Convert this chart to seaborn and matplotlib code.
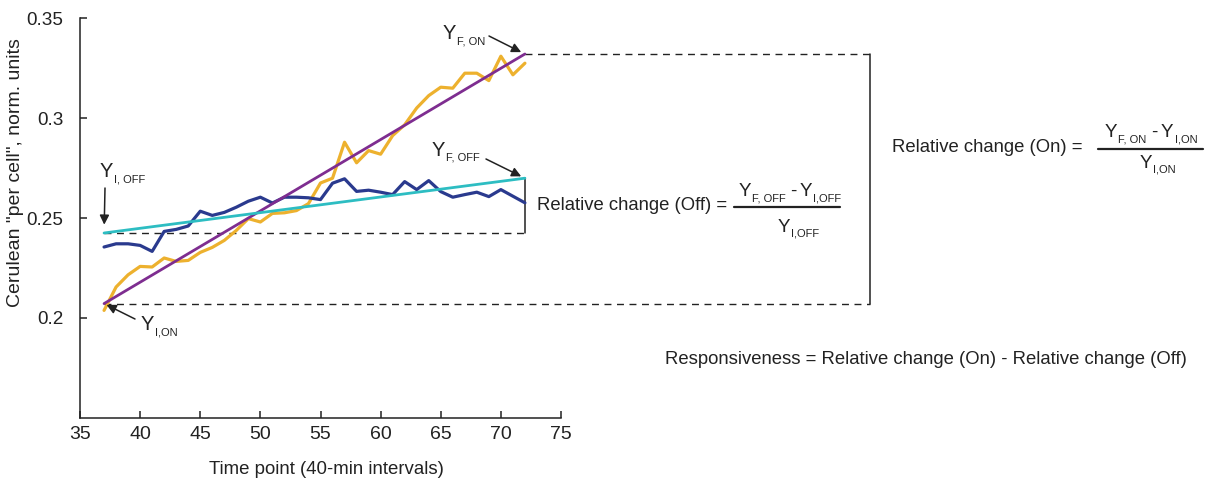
import numpy as np
import pandas as pd
import seaborn as sns
import matplotlib
matplotlib.use("Agg")
import matplotlib.pyplot as plt
from matplotlib.lines import Line2D

# Time points (40-min intervals)
time_points = [37, 38, 39, 40, 41, 42, 43, 44, 45, 46, 47, 48, 49, 50, 51, 52, 53, 54,
               55, 56, 57, 58, 59, 60, 61, 62, 63, 64, 65, 66, 67, 68, 69, 70, 71, 72]

# Cerulean "per cell" signal, inducer on
on_values = [0.2038, 0.2155, 0.2216, 0.2258, 0.2255, 0.2300, 0.2283, 0.2288, 0.2328,
             0.2353, 0.2388, 0.2438, 0.2497, 0.2480, 0.2523, 0.2526, 0.2537, 0.2572,
             0.2675, 0.2699, 0.2879, 0.2776, 0.2837, 0.2819, 0.2912, 0.2966, 0.3050,
             0.3112, 0.3154, 0.3149, 0.3224, 0.3224, 0.3187, 0.3309, 0.3216, 0.3274]

# Cerulean "per cell" signal, inducer off
off_values = [0.2355, 0.2371, 0.2371, 0.2363, 0.2333, 0.2433, 0.2443, 0.2460, 0.2534,
              0.2513, 0.2528, 0.2554, 0.2584, 0.2604, 0.2575, 0.2604, 0.2604, 0.2601,
              0.2592, 0.2674, 0.2696, 0.2633, 0.2639, 0.2629, 0.2617, 0.2682, 0.2642,
              0.2687, 0.2632, 0.2604, 0.2617, 0.2629, 0.2607, 0.2642, 0.2609, 0.2576]

# Linear fits: value at first and last time point (Y_I, Y_F)
fit_times = [37, 72]
on_fit = [0.2072, 0.3320]
off_fit = [0.2425, 0.2699]

x_ticks = [35, 40, 45, 50, 55, 60, 65, 70, 75]
y_ticks = [0.2, 0.25, 0.3, 0.35]
y_tick_labels = ["0.2", "0.25", "0.3", "0.35"]

# x position (time units) of the bracket closing the On comparison
on_bracket_x = 100.7

COL_ON = "#EDB12E"
COL_OFF = "#2A3A8E"
COL_ON_FIT = "#7E2D90"
COL_OFF_FIT = "#2DBDC2"
INK = "#222222"

sns.set_style("ticks")
plt.rcParams["font.family"] = ["Liberation Sans", "DejaVu Sans"]
plt.rcParams["font.size"] = 13.3

W, H = 1210, 486
fig = plt.figure(figsize=(W / 100, H / 100), dpi=100)
ax = fig.add_axes([80 / W, 1 - 418 / H, (561 - 80) / W, (418 - 18) / H])


def fpos(px, py):
    return (px / W, 1 - py / H)


data = pd.DataFrame({
    "time": time_points * 2,
    "value": on_values + off_values,
    "condition": ["On"] * len(time_points) + ["Off"] * len(time_points),
})
fits = pd.DataFrame({
    "time": fit_times * 2,
    "value": on_fit + off_fit,
    "condition": ["On fit", "On fit", "Off fit", "Off fit"],
})

sns.lineplot(data=data, x="time", y="value", hue="condition",
             palette={"On": COL_ON, "Off": COL_OFF}, linewidth=2.3,
             legend=False, ax=ax, zorder=3)
sns.lineplot(data=fits, x="time", y="value", hue="condition",
             palette={"On fit": COL_ON_FIT, "Off fit": COL_OFF_FIT}, linewidth=2.0,
             legend=False, ax=ax, zorder=4)

ax.set_xlim(35, 75)
ax.set_ylim(0.15, 0.35)
ax.set_xticks(x_ticks)
ax.set_yticks(y_ticks)
ax.set_yticklabels(y_tick_labels)
ax.tick_params(direction="in", length=5, width=1.1, color=INK, labelsize=14,
               labelcolor=INK)
ax.tick_params(axis="y", labelsize=13.6, pad=12)
ax.tick_params(axis="x", pad=6)
for side in ("top", "right"):
    ax.spines[side].set_visible(False)
for side in ("left", "bottom"):
    ax.spines[side].set_color(INK)
    ax.spines[side].set_linewidth(1.1)
ax.set_xlabel("")
ax.set_ylabel("")
fig.text(*fpos(326, 469), "Time point (40-min intervals)", ha="center", va="center",
         fontsize=13.4, color=INK)
fig.text(*fpos(16, 173), 'Cerulean "per cell", norm. units', rotation=90,
         ha="center", va="center", fontsize=14, color=INK)

# Reference levels and brackets
dash = dict(color=INK, lw=1.0, ls=(0, (5, 4)), clip_on=False, zorder=2)
ax.plot([fit_times[0], on_bracket_x], [on_fit[0], on_fit[0]], **dash)
ax.plot([fit_times[1], on_bracket_x], [on_fit[1], on_fit[1]], **dash)
ax.plot([fit_times[0], fit_times[1]], [off_fit[0], off_fit[0]], **dash)
ax.plot([on_bracket_x, on_bracket_x], [on_fit[0], on_fit[1]], color=INK, lw=1.1,
        clip_on=False)
ax.plot([fit_times[1], fit_times[1]], [off_fit[0], off_fit[1]], color=INK, lw=1.1,
        clip_on=False, zorder=2)

renderer = fig.canvas.get_renderer()
MAIN, SUB, SUB_DROP = 13.6, 8.0, 5


def symbol(x_px, base_px, pieces, ha="left", main=MAIN):
    """Lay out Y-with-subscript pieces: (text, is_sub, gap_after_px)."""
    items = []
    for s, is_sub, gap in pieces:
        t = fig.text(0, 0, s, fontsize=SUB if is_sub else main, color=INK,
                     va="baseline", ha="left")
        w = t.get_window_extent(renderer).width
        items.append((t, is_sub, w, gap))
    total = sum(w + g for _, _, w, g in items) - items[-1][3]
    cur = x_px - total / 2 if ha == "center" else x_px
    for t, is_sub, w, gap in items:
        t.set_position(fpos(cur, base_px + (SUB_DROP if is_sub else 0)))
        cur += w + gap


def y_sym(sub):
    return [("Y", False, 1), (sub, True, 0)]


def y_diff(sub_f, sub_i):
    return [("Y", False, 1), (sub_f, True, 4), ("-", False, 4),
            ("Y", False, 1), (sub_i, True, 0)]


# Point labels with arrows
arrow = dict(arrowstyle="-|>", color=INK, lw=1.1, mutation_scale=14,
             shrinkA=0, shrinkB=3)
symbol(443, 39, y_sym("F, ON"), main=14.5)
ax.annotate("", xy=(fit_times[1], on_fit[1]), xycoords="data",
            xytext=fpos(489, 36), textcoords="figure fraction", arrowprops=arrow)
symbol(432, 156, y_sym("F, OFF"), main=14.5)
ax.annotate("", xy=(fit_times[1], off_fit[1]), xycoords="data",
            xytext=fpos(486, 159), textcoords="figure fraction", arrowprops=arrow)
symbol(100, 177, y_sym("I, OFF"), main=14.5)
ax.annotate("", xy=(fit_times[0], off_fit[0]), xycoords="data",
            xytext=fpos(105, 188), textcoords="figure fraction",
            arrowprops=dict(arrow, shrinkB=6))
symbol(141, 330, y_sym("I,ON"), main=14.5)
ax.annotate("", xy=(fit_times[0], on_fit[0]), xycoords="data",
            xytext=fpos(135, 319), textcoords="figure fraction",
            arrowprops=dict(arrow, shrinkB=2))

# Formulas
txt_kw = dict(fontsize=13.3, color=INK)
fig.text(*fpos(537, 206), "Relative change (Off) =", ha="left", va="center", **txt_kw)
fig.add_artist(Line2D([734 / W, 840 / W], [1 - 207 / H, 1 - 207 / H], color=INK, lw=1.6))
symbol(790, 196, y_diff("F, OFF", "I,OFF"), ha="center")
symbol(798, 232, y_sym("I,OFF"), ha="center")

fig.text(*fpos(892, 148), "Relative change (On) =", ha="left", va="center", **txt_kw)
fig.add_artist(Line2D([1098 / W, 1203 / W], [1 - 149 / H, 1 - 149 / H], color=INK, lw=1.6))
symbol(1151, 137, y_diff("F, ON", "I,ON"), ha="center")
symbol(1158, 168, y_sym("I,ON"), ha="center")

fig.text(*fpos(665, 360), "Responsiveness = Relative change (On) - Relative change (Off)",
         ha="left", va="center", **txt_kw)

fig.savefig("out.png", dpi=100, facecolor="white")
